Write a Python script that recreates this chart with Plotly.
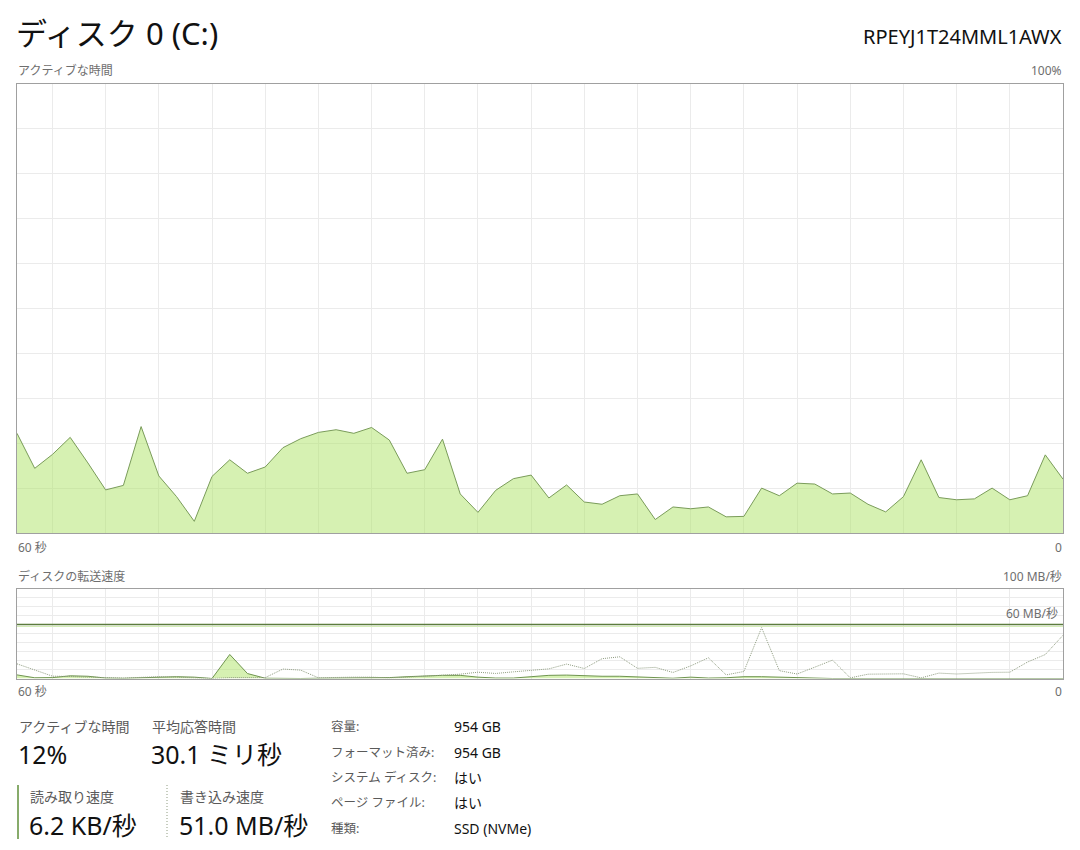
import plotly.graph_objects as go

# ---------------- data ----------------
seconds_ago = list(range(59, -1, -1))

active_time_pct = [22.2, 14.4, 17.5, 21.3, 15.6, 9.6, 10.6, 23.7, 12.7, 8.1,
                   2.6, 12.6, 16.3, 13.3, 14.7, 19.0, 21.0, 22.4, 23.0, 22.2,
                   23.5, 20.7, 13.3, 14.1, 20.9, 8.7, 4.6, 9.5, 12.1, 12.9,
                   7.8, 10.7, 6.9, 6.4, 8.3, 8.7, 3.0, 5.8, 5.4, 5.8,
                   3.6, 3.7, 10.0, 8.3, 11.1, 10.9, 8.7, 8.9, 6.4, 4.7,
                   8.1, 16.3, 7.9, 7.4, 7.6, 10.0, 7.4, 8.3, 17.4, 12.0]

read_mbps = [4.0, 0.8, 1.0, 3.0, 2.5, 0.5, 0.2, 1.0, 2.0, 2.0,
             1.5, 0.0, 26.7, 5.5, 0.3, 0.0, 0.0, 0.3, 0.3, 0.3,
             0.5, 1.0, 2.0, 3.0, 3.5, 3.5, 1.5, 0.5, 0.5, 2.0,
             3.5, 3.8, 3.0, 2.5, 2.5, 2.0, 1.0, 0.3, 1.5, 0.5,
             0.8, 2.0, 2.0, 1.5, 0.5, 0.2, 0.0, 0.0, 0.0, 0.0,
             0.0, 0.0, 0.0, 0.0, 0.0, 0.0, 0.0, 0.0, 0.0, 0.0]

write_mbps = [16.3, 9.5, 2.6, 2.2, 2.0, 1.0, 0.5, 1.5, 2.0, 1.5,
              0.5, 0.0, 1.0, 1.0, 1.0, 10.5, 9.3, 0.8, 1.5, 1.5,
              1.5, 0.7, 1.5, 2.6, 4.1, 4.8, 7.0, 5.6, 7.4, 8.9,
              10.7, 16.0, 11.1, 22.0, 24.1, 11.3, 12.4, 6.7, 14.0, 23.0,
              4.0, 7.8, 56.5, 8.7, 5.0, 12.6, 20.4, 0.7, 4.8, 5.0,
              5.2, 0.7, 6.0, 5.0, 6.0, 6.8, 7.0, 18.3, 26.6, 48.0]

rate_marker_mbps = 60
grid_seconds = list(range(3, 58, 3))

title_text = "ディスク 0 (C:)"
model_text = "RPEYJ1T24MML1AWX"

stats = [("アクティブな時間", "12%"), ("平均応答時間", "30.1 ミリ秒"),
         ("読み取り速度", "6.2 KB/秒"), ("書き込み速度", "51.0 MB/秒")]
props_labels = ["容量:", "フォーマット済み:", "システム ディスク:", "ページ ファイル:", "種類:"]
props_values = ["954 GB", "954 GB", "はい", "はい", "SSD (NVMe)"]

# ---------------- styling ----------------
OFF = 8                      # page body margin
W, H = 1064, 834
FONT = "Noto Sans, Noto Sans CJK JP, sans-serif"
FILL = "rgba(173,227,101,0.5)"
LINE = "#7a9c5a"
GRID = "#ebebeb"
FRAME = "#a0a0a0"
GRAY = "#6e6e6e"


def px(x):
    return (x - OFF) / W


def py(y):
    return 1 - (y - OFF) / H


L, R = 17, 1063
top_y0, top_y1 = 84, 533
low_y0, low_y1 = 588.5, 678.5

fig = go.Figure()

fig.add_trace(go.Scatter(x=seconds_ago, y=active_time_pct, mode="lines",
                         line=dict(color=LINE, width=1), fill="tozeroy",
                         fillcolor=FILL, hoverinfo="skip", xaxis="x", yaxis="y"))

fig.add_trace(go.Scatter(x=seconds_ago, y=read_mbps, mode="lines",
                         line=dict(color="#6f9450", width=1), fill="tozeroy",
                         fillcolor=FILL, hoverinfo="skip", xaxis="x2", yaxis="y2"))
fig.add_trace(go.Scatter(x=seconds_ago, y=write_mbps, mode="lines",
                         line=dict(color="#8f9c80", width=1, dash="1px,1px"),
                         hoverinfo="skip", xaxis="x2", yaxis="y2"))

axis_common = dict(showline=True, mirror=True, linecolor=FRAME, linewidth=1,
                   zeroline=False, showticklabels=False, ticks="",
                   gridcolor=GRID, gridwidth=1, fixedrange=True)

fig.update_layout(
    width=W, height=H, autosize=False,
    margin=dict(l=0, r=0, t=0, b=0),
    paper_bgcolor="white", plot_bgcolor="white",
    showlegend=False,
    font=dict(family=FONT, color="#1a1a1a"),
    xaxis=dict(domain=[px(L), px(R)], range=[59, 0], tickmode="array",
               tickvals=grid_seconds, showgrid=True, anchor="y", **axis_common),
    yaxis=dict(domain=[py(top_y1), py(top_y0)], range=[0, 100], dtick=10,
               showgrid=True, anchor="x", **axis_common),
    xaxis2=dict(domain=[px(L), px(R)], range=[59, 0], tickmode="array",
                tickvals=grid_seconds, showgrid=True, anchor="y2", **axis_common),
    yaxis2=dict(domain=[py(low_y1), py(low_y0)], range=[0, 100], dtick=10,
                showgrid=True, anchor="x2", **axis_common),
)

# 60 MB/s marker line in the transfer chart
fig.add_shape(type="line", xref="x2 domain", yref="y2", x0=0, x1=1,
              y0=rate_marker_mbps, y1=rate_marker_mbps,
              line=dict(color="#5c7c3e", width=1.5))
fig.add_shape(type="line", xref="x2 domain", yref="y2", x0=0, x1=1,
              y0=rate_marker_mbps - 2.2, y1=rate_marker_mbps - 2.2,
              line=dict(color="#d3ecb8", width=1))

# legend-like separators for read/write
fig.add_shape(type="line", xref="paper", yref="paper", x0=px(18), x1=px(18),
              y0=py(785), y1=py(839), line=dict(color="#5f8f3a", width=1.5))
fig.add_shape(type="line", xref="paper", yref="paper", x0=px(167), x1=px(167),
              y0=py(785), y1=py(839), line=dict(color="#8f9c80", width=1, dash="1px,2px"))


def text(x, y, s, size, color="#1a1a1a", anchor="left"):
    fig.add_annotation(x=px(x), y=py(y), xref="paper", yref="paper", text=s,
                       showarrow=False, xanchor=anchor, yanchor="middle",
                       font=dict(family=FONT, size=size, color=color))


text(14, 33, title_text, 31, "#111111")
text(1064, 36, model_text, 20, "#111111", "right")

text(16, 71, "アクティブな時間", 12, GRAY)
text(1064, 71, "100%", 12, GRAY, "right")
text(16, 547, "60 秒", 12, GRAY)
text(1064, 547, "0", 12, GRAY, "right")

text(16, 576, "ディスクの転送速度", 12, GRAY)
text(1064, 576, "100 MB/秒", 12, GRAY, "right")
text(1060, 613, "60 MB/秒", 12, GRAY, "right")
text(16, 691, "60 秒", 12, GRAY)
text(1064, 691, "0", 12, GRAY, "right")

stat_pos = [(17, 726, 754), (150, 726, 754), (28, 796, 825), (178, 796, 825)]
for (lab, val), (sx, ly, vy) in zip(stats, stat_pos):
    text(sx, ly, lab, 14, "#5a5a5a")
    text(sx - 1, vy, val, 25, "#111111")

row_y = [726, 752, 777, 802, 828]
for lab, val, ry in zip(props_labels, props_values, row_y):
    text(329, ry, lab, 12.5, "#5a5a5a")
    text(452, ry, val, 14, "#111111")

fig.write_html("out.html", config={"displayModeBar": False})
